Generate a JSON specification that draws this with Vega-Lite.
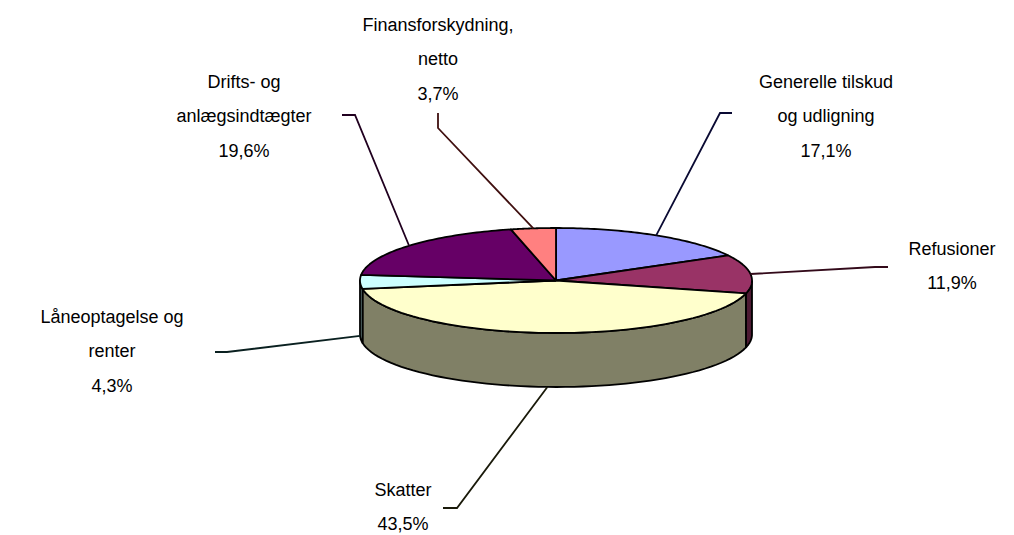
{
"$schema":"https://vega.github.io/schema/vega-lite/v6.json",
"width":1014,"height":535,"padding":0,
"autosize":"none",
"background":"white",
"config":{"view":{"stroke":null}},
"data":{"values":[
{"name":"Generelle tilskud\nog udligning","share":17.1,"order":1},
{"name":"Refusioner","share":11.9,"order":2},
{"name":"Skatter","share":43.5,"order":3},
{"name":"Låneoptagelse og\nrenter","share":4.3,"order":4},
{"name":"Drifts- og\nanlægsindtægter","share":19.6,"order":5},
{"name":"Finansforskydning,\nnetto","share":3.7,"order":6}
]},
"transform":[
{"joinaggregate":[{"op":"sum","field":"share","as":"total"}]},
{"window":[{"op":"sum","field":"share","as":"cum"}],"sort":[{"field":"order"}]},
{"calculate":"2*PI*(datum.cum-datum.share)/datum.total","as":"a0"},
{"calculate":"2*PI*datum.cum/datum.total","as":"a1"},
{"calculate":"(datum.a0+datum.a1)/2","as":"mid"}
],
"layer":[
{
"transform":[
{"calculate":"clamp(datum.a0,PI/2,3*PI/2)","as":"b0"},
{"calculate":"clamp(datum.a1,PI/2,3*PI/2)","as":"b1"},
{"filter":"datum.b1>datum.b0"},
{"calculate":"sequence(0,123)","as":"i"},
{"flatten":["i"]},
{"calculate":"datum.i<=60?datum.b0+(datum.b1-datum.b0)*datum.i/60:(datum.i<122?datum.b1-(datum.b1-datum.b0)*(datum.i-61)/60:datum.b0)","as":"ang"},
{"calculate":"196*sin(datum.ang)","as":"px"},
{"calculate":"-52.5*cos(datum.ang)+((datum.i>60&&datum.i<122)?54:0)","as":"py"}
],
"mark":{"type":"line","stroke":"black","strokeWidth":1.8,"strokeJoin":"round"},
"encoding":{
"x":{"field":"px","type":"quantitative","axis":null,"scale":{"domain":[-556,458],"nice":false,"zero":false}},
"y":{"field":"py","type":"quantitative","axis":null,"scale":{"domain":[-280.5,254.5],"reverse":true,"nice":false,"zero":false}},
"order":{"field":"i","type":"quantitative"},
"detail":{"field":"name"},
"fill":{"field":"order","type":"nominal","legend":null,"scale":{"domain":[2,3,4],"range":["#4d1a33","#808066","#668080"]}}
}
},
{
"transform":[
{"calculate":"sequence(0,63)","as":"i"},
{"flatten":["i"]},
{"calculate":"datum.a0+(datum.a1-datum.a0)*clamp((datum.i-1)/60,0,1)","as":"ang"},
{"calculate":"(datum.i==0||datum.i==62)?0:196*sin(datum.ang)","as":"px"},
{"calculate":"(datum.i==0||datum.i==62)?0:-52.5*cos(datum.ang)","as":"py"}
],
"mark":{"type":"line","stroke":"black","strokeWidth":1.8,"strokeJoin":"round"},
"encoding":{
"x":{"field":"px","type":"quantitative","axis":null,"scale":{"domain":[-556,458],"nice":false,"zero":false}},
"y":{"field":"py","type":"quantitative","axis":null,"scale":{"domain":[-280.5,254.5],"reverse":true,"nice":false,"zero":false}},
"order":{"field":"i","type":"quantitative"},
"detail":{"field":"name"},
"fill":{"field":"order","type":"nominal","legend":null,"scale":{"domain":[1,2,3,4,5,6],"range":["#9999ff","#993366","#ffffcc","#ccffff","#660066","#ff8080"]}}
}
},
{
"transform":[
{"calculate":"[[164,-167.5,176,-167.5],[319,-13.5,332,-13.5],[-99,227.5,-113,227.5],[-329,71.5,-341,71.5],[-201,-165.5,-214,-165.5],[-118,-152.5,-118,-167.5]][datum.order-1]","as":"elbow"},
{"calculate":"[0,1,2]","as":"i"},
{"flatten":["i"]},
{"calculate":"datum.i==0?196*sin(datum.mid):(datum.i==1?datum.elbow[0]:datum.elbow[2])","as":"px"},
{"calculate":"datum.i==0?(-52.5*cos(datum.mid)+(datum.order==3||datum.order==4?54:0)):(datum.i==1?datum.elbow[1]:datum.elbow[3])","as":"py"}
],
"mark":{"type":"line","strokeWidth":1.8},
"encoding":{
"x":{"field":"px","type":"quantitative","axis":null,"scale":{"domain":[-556,458],"nice":false,"zero":false}},
"y":{"field":"py","type":"quantitative","axis":null,"scale":{"domain":[-280.5,254.5],"reverse":true,"nice":false,"zero":false}},
"order":{"field":"i","type":"quantitative"},
"detail":{"field":"name"},
"color":{"field":"order","type":"nominal","legend":null,"scale":{"domain":[1,2,3,4,5,6],"range":["#0a0a33","#330a1a","#1a1a0a","#0a2020","#20001f","#401010"]}}
}
},
{
"transform":[
{"calculate":"[[270,-198],[396,-31],[-153,210],[-444,37],[-312,-198],[-118,-255]][datum.order-1]","as":"pos"},
{"calculate":"datum.pos[0]","as":"px"},
{"calculate":"datum.pos[1]","as":"py"},
{"calculate":"datum.name+'\\n'+replace(format(datum.share,'.1f'),'.',',')+'%'","as":"label"}
],
"mark":{"type":"text","font":"Liberation Sans","fontSize":18,"lineBreak":"\n","lineHeight":34.5,"align":"center","baseline":"middle","color":"#000000"},
"encoding":{
"x":{"field":"px","type":"quantitative","axis":null,"scale":{"domain":[-556,458],"nice":false,"zero":false}},
"y":{"field":"py","type":"quantitative","axis":null,"scale":{"domain":[-280.5,254.5],"reverse":true,"nice":false,"zero":false}},
"text":{"field":"label"}
}
}
],
"resolve":{"scale":{"fill":"independent","color":"independent"}}
}
